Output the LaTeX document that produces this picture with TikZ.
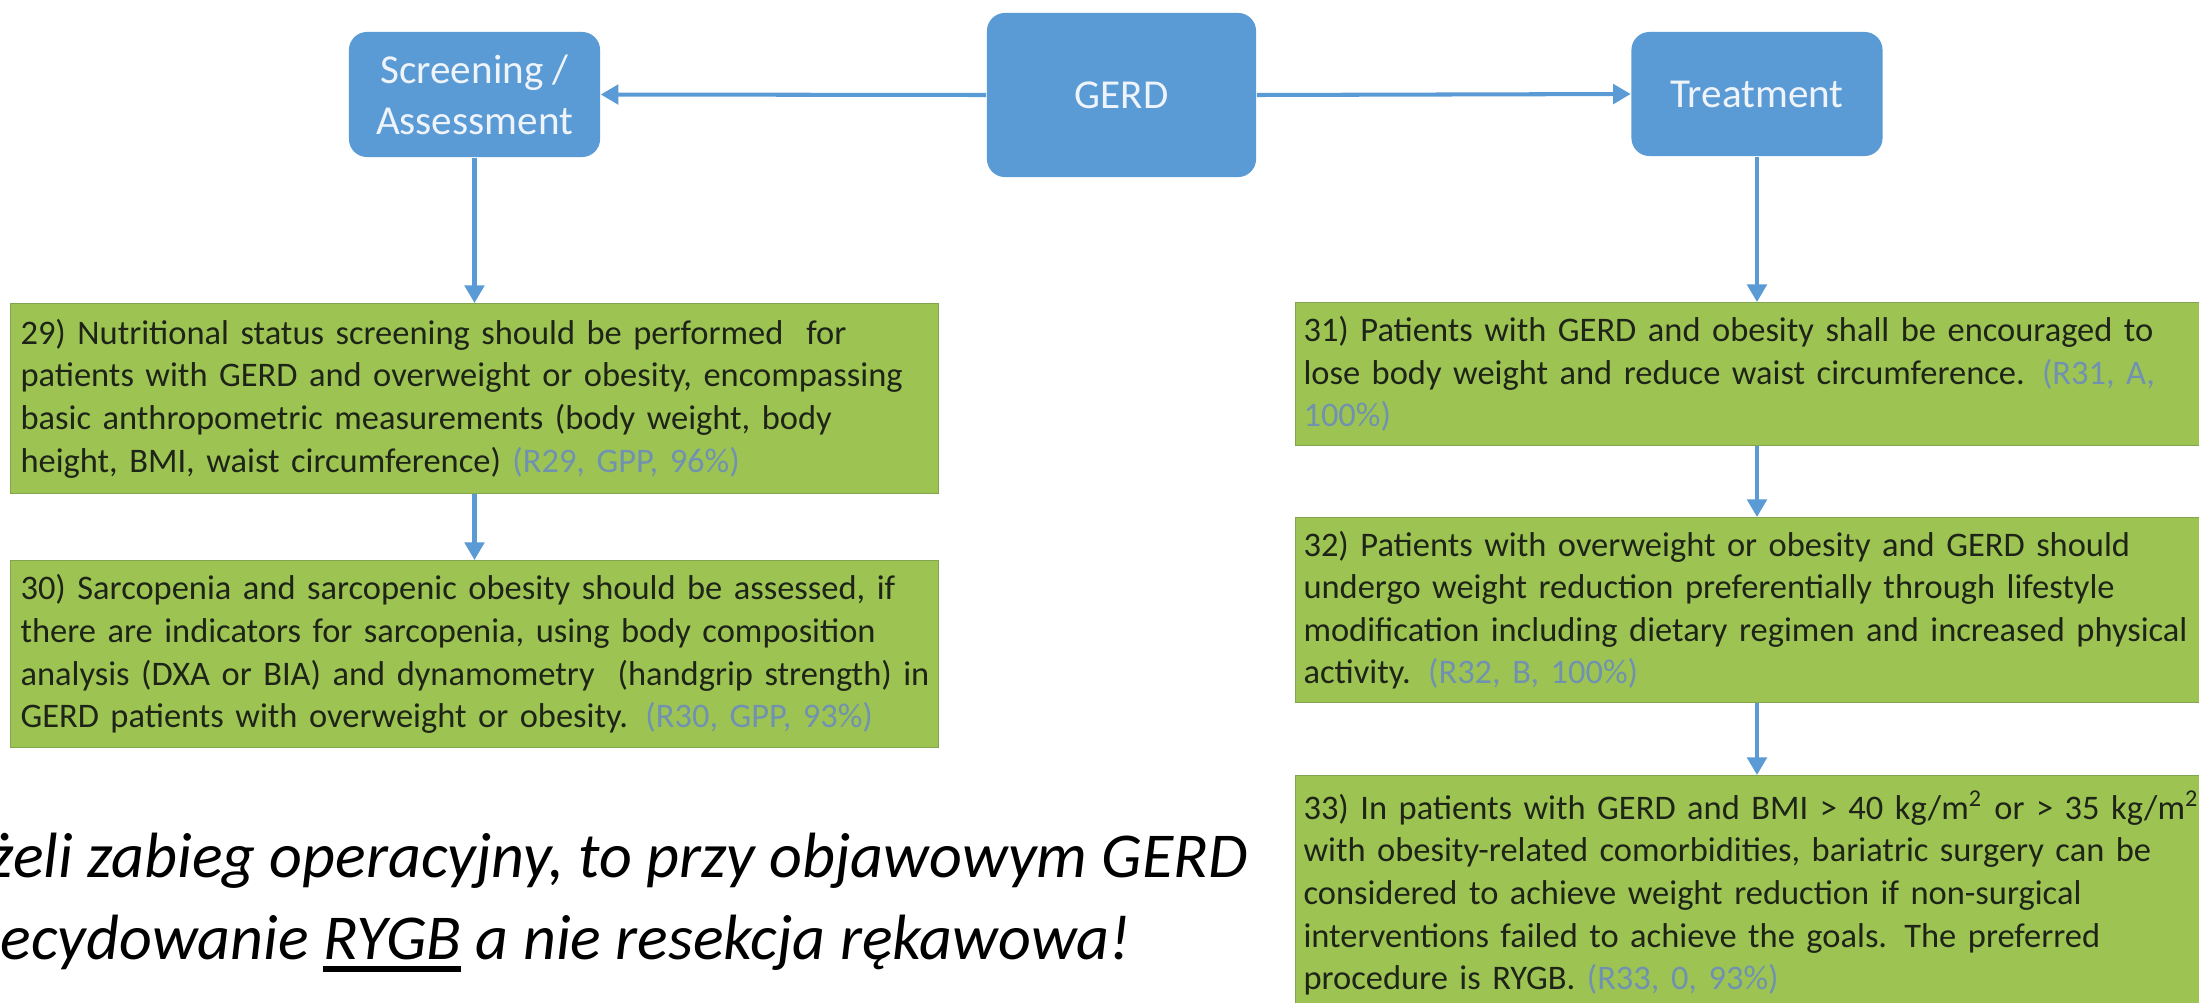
\documentclass[tikz,border=0pt]{standalone}
\usepackage{fontspec}
\setmainfont{Carlito}
\usetikzlibrary{arrows.meta}

\definecolor{boxblue}{RGB}{91,155,213}
\definecolor{boxtext}{RGB}{238,244,250}
\definecolor{boxgreen}{RGB}{157,196,82}
\definecolor{boxgreenline}{RGB}{132,165,80}
\definecolor{bodytext}{RGB}{30,36,24}
\definecolor{citeblue}{RGB}{112,146,176}

% grey-blue recommendation code after each statement
\newcommand\refnote[1]{\textcolor{citeblue}{#1}}
% heavy underline
\newcommand\thickul[1]{\setbox0=\hbox{#1}\rlap{\rule[-0.21em]{\wd0}{0.1em}}\box0\relax}

\begin{document}
\begin{tikzpicture}[
  x=0.01cm, y=-0.01cm,
  bluebox/.style={rounded corners=0.18cm, fill=boxblue, text=boxtext,
    font=\fontsize{11.7pt}{14.5pt}\selectfont, align=center, inner sep=0pt},
  greenbox/.style={fill=boxgreen, draw=boxgreenline, line width=0.3pt,
    anchor=north west, align=left, inner ysep=0pt, text=bodytext,
    font=\fontsize{9.8pt}{12.1pt}\selectfont},
  leftcol/.style={greenbox, text width=9.07cm, inner xsep=0.1cm},
  rightcol/.style={greenbox, text width=9.04cm, inner xsep=0.08cm},
  flow/.style={draw=boxblue, line width=1.15pt,
    -{Triangle[length=5pt,width=5.5pt]}},
  remark/.style={anchor=base west, inner sep=0pt, text=black,
    font=\itshape\fontsize{18.2pt}{23pt}\selectfont}
]
\useasboundingbox (0,0) rectangle (2199,1003);
\fill[white] (0,0) rectangle (2199,1003);

\begin{scope}
\clip (0,0) rectangle (2199,1003);

% top row
\node[bluebox, minimum width=2.51cm, minimum height=1.25cm] (scr) at (474.5,94.5) {Screening /\\Assessment};
\node[bluebox, minimum width=2.69cm, minimum height=1.64cm] (gerd) at (1121.5,95) {GERD};
\node[bluebox, minimum width=2.51cm, minimum height=1.24cm] (trt) at (1757,94) {Treatment};

% screening / assessment column
\node[leftcol, minimum height=1.90cm] (r29) at (10,303) {\mbox{29) Nutritional status screening should be performed \ for}\\
\mbox{patients with GERD and overweight or obesity, encompassing}\\
\mbox{basic anthropometric measurements (body weight, body}\\
\mbox{height, BMI, waist circumference) \refnote{(R29, GPP, 96\%)}}};

\node[leftcol, minimum height=1.87cm] (r30) at (10,560) {\mbox{30) Sarcopenia and sarcopenic obesity should be assessed, if}\\
\mbox{there are indicators for sarcopenia, using body composition}\\
\mbox{analysis (DXA or BIA) and dynamometry \ (handgrip strength) in}\\
\mbox{GERD patients with overweight or obesity. \refnote{(R30, GPP, 93\%)}}};

% treatment column
\node[rightcol, minimum height=1.43cm] (r31) at (1295,302) {\mbox{31) Patients with GERD and obesity shall be encouraged to}\\
\mbox{lose body weight and reduce waist circumference. \refnote{(R31, A,}}\\
\refnote{100\%)}};

\node[rightcol, minimum height=1.85cm] (r32) at (1295,517) {\mbox{32) Patients with overweight or obesity and GERD should}\\
\mbox{undergo weight reduction preferentially through lifestyle}\\
\mbox{modification including dietary regimen and increased physical}\\
\mbox{activity. \refnote{(R32, B, 100\%)}}};

\node[rightcol, minimum height=2.35cm] (r33) at (1295,775) {\mbox{33) In patients with GERD and BMI > 40 kg/m\textsuperscript{2} or > 35 kg/m\textsuperscript{2}}\\
\mbox{with obesity-related comorbidities, bariatric surgery can be}\\
\mbox{considered to achieve weight reduction if non-surgical}\\
\mbox{interventions failed to achieve the goals. The preferred}\\
\mbox{procedure is RYGB. \refnote{(R33, 0, 93\%)}}};

% connectors
\draw[flow] (gerd.west) -- (scr.east);
\draw[flow] (gerd.east) -- (trt.west);
\draw[flow] (scr.south) -- (scr.south |- r29.north);
\draw[flow] (r29.south -| scr.south) -- (r30.north -| scr.south);
\draw[flow] (trt.south) -- (trt.south |- r31.north);
\draw[flow] (r31.south -| trt.south) -- (r32.north -| trt.south);
\draw[flow] (r32.south -| trt.south) -- (r33.north -| trt.south);

% remark in Polish
\node[remark] (pl1) at (-12,877) {żeli zabieg operacyjny, to przy objawowym GERD};
\node[remark] (pl2) at (0,959) {ecydowanie \thickul{RYGB} a nie resekcja rękawowa!};
\end{scope}
\end{tikzpicture}
\end{document}
